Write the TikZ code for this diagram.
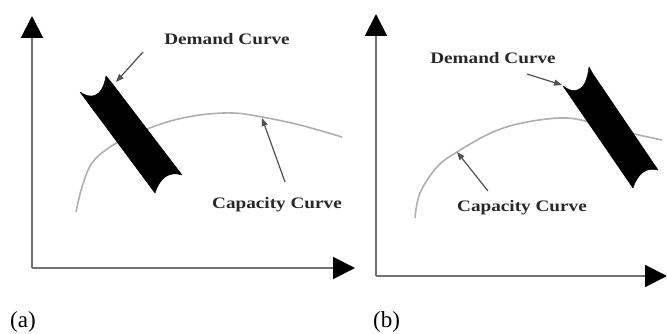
\documentclass[tikz,border=0pt]{standalone}
\usepackage{graphicx}
\usepackage{fontspec}
\setmainfont{Liberation Serif}
\usetikzlibrary{arrows.meta}
\definecolor{axgray}{RGB}{115,115,115}
\definecolor{curvegray}{RGB}{175,175,175}
\definecolor{ptrgray}{RGB}{80,80,80}
\definecolor{labtext}{RGB}{40,40,40}
\newcommand\widetxt[1]{\scalebox{1.2}[1]{#1}}
\begin{document}
\begin{tikzpicture}[x=1pt,y=-1pt,
  axis/.style={draw=axgray, line width=2pt, -{Triangle[length=22pt,width=22pt,color=black]}},
  capcurve/.style={draw=curvegray, line width=1.6pt},
  band/.style={fill=black, draw=black, line width=0.5pt, line join=round},
  pointer/.style={draw=ptrgray, line width=1.2pt, -{Triangle[length=8pt,width=6pt]}},
  lab/.style={font=\fontsize{16}{18}\selectfont\bfseries, text=labtext, inner sep=0pt},
  sublab/.style={font=\fontsize{23}{25}\selectfont, inner sep=0pt, anchor=base west}]
\useasboundingbox (0,0) rectangle (667,334);
\fill[white] (0,0) rectangle (667,334);

% ---------- panel (a) ----------
\coordinate (ao) at (32,268);
\coordinate (ay) at (32,16);
\coordinate (ax) at (355,268);
\draw[axis] (ao) -- (ay);
\draw[axis] (ao) -- (ax);
\draw[capcurve] plot[smooth, tension=0.6] coordinates
  {(76,212) (82,187) (92,163) (110,147) (133,135) (167,122) (200,115) (233,113) (262,117) (300,125) (342,137)};
\fill[band] (80,92) .. controls (90,99) and (102,99) .. (106,76) -- (111,82) -- (182,175)
  .. controls (170,171) and (160,177) .. (155,193) -- cycle;
\node[lab] (da) at (227,39) {\widetxt{Demand Curve}};
\coordinate (das) at (143,52);
\coordinate (dat) at (116,82);
\draw[pointer] (das) -- (dat);
\node[lab] (ca) at (277,205) {\widetxt{Capacity Curve}};
\coordinate (cas) at (285,182);
\coordinate (cat) at (262,118);
\draw[pointer] (cas) -- (cat);
\node[sublab] (suba) at (10,327) {(a)};

% ---------- panel (b) ----------
\coordinate (bo) at (376,276);
\coordinate (by) at (376,14);
\coordinate (bx) at (667,276);
\draw[axis] (bo) -- (by);
\draw[axis] (bo) -- (bx);
\draw[capcurve] plot[smooth, tension=0.6] coordinates
  {(415,218) (420,193) (437,167) (457,152) (493,132) (527,122) (567,118) (600,125) (630,133) (662,140)};
\fill[band] (563,86) .. controls (573,94) and (586,94) .. (589,67) -- (593,74) -- (658,170)
  .. controls (648,167) and (638,172) .. (633,188) -- cycle;
\node[lab] (db) at (493,58) {\widetxt{Demand Curve}};
\coordinate (dbs) at (527,74);
\coordinate (dbt) at (562,85);
\draw[pointer] (dbs) -- (dbt);
\node[lab] (cb) at (522,208) {\widetxt{Capacity Curve}};
\coordinate (cbs) at (488,191);
\coordinate (cbt) at (457,152);
\draw[pointer] (cbs) -- (cbt);
\node[sublab] (subb) at (373,327) {(b)};
\end{tikzpicture}
\end{document}
